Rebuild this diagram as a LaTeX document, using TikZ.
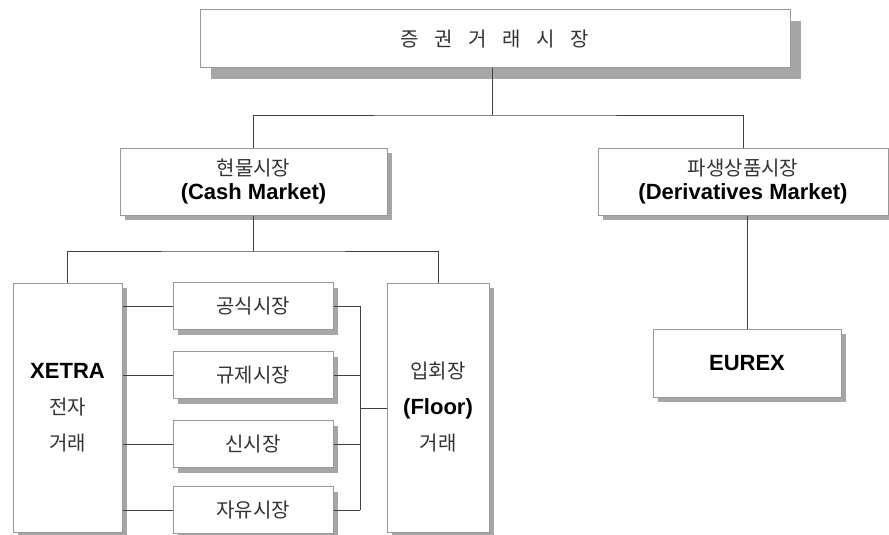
\documentclass[tikz,border=0pt]{standalone}
\usepackage{fontspec}
\setmainfont{Liberation Sans}
\newfontfamily\kr{Noto Sans CJK KR}
\newfontfamily\krwide[WordSpace=3.5]{Noto Sans CJK KR}
\usetikzlibrary{shadows}
\usetikzlibrary{calc}
\tikzstyle{plainbox}=[draw=black!40,fill=white,line width=1pt,inner sep=0pt,align=center,font=\fontsize{20}{24}\selectfont]
\tikzstyle{box}=[plainbox,drop shadow={shadow xshift=5pt,shadow yshift=-5pt,fill=black!35,opacity=1}]
\tikzstyle{topbox}=[plainbox,drop shadow={shadow xshift=11pt,shadow yshift=-11pt,fill=black!35,opacity=1}]
\tikzstyle{tallbox}=[box,minimum height=249pt,font=\fontsize{20}{36}\selectfont]
\tikzstyle{smallbox}=[box,minimum width=160pt,minimum height=47pt]
\tikzstyle{link} = [draw,line width=1pt,black!75]

\begin{document}
\begin{tikzpicture}[x=1pt,y=-1pt]
    \useasboundingbox (0,0) rectangle (889,535);

    % top level
    \node[topbox,minimum width=590pt,minimum height=58pt] (market) at (495,39) {\krwide\color{black!80}증 권 거 래 시 장};

    % cash and derivatives
    \node[box,minimum width=267pt,minimum height=67pt] (cash) at (253.5,181.5)
        {{\kr\color{black!80}현물시장}\\{\fontsize{22}{24}\selectfont\bfseries (Cash Market)}};
    \node[box,minimum width=290pt,minimum height=67pt] (deriv) at (743,181.5)
        {{\kr\color{black!80}파생상품시장}\\{\fontsize{22}{24}\selectfont\bfseries (Derivatives Market)}};

    % trading
    \node[tallbox,minimum width=109pt] (xetra) at (67.5,407.5)
        {{\fontsize{22}{36}\selectfont\bfseries XETRA}\\{\kr\color{black!80}전자}\\{\kr\color{black!80}거래}};
    \node[tallbox,minimum width=102pt] (floor) at (438,407.5)
        {{\kr\color{black!80}입회장}\\{\fontsize{22}{36}\selectfont\bfseries (Floor)}\\{\kr\color{black!80}거래}};

    \foreach \pos/ \name/ \txt in {{(253,306)/official/공식시장},{(253,375)/regulated/규제시장},
                                   {(253,444)/newmkt/신시장},{(253,510)/freemkt/자유시장}}
        \node[smallbox] (\name) at \pos {\kr\color{black!80}\txt};

    \node[box,minimum width=188pt,minimum height=68pt] (eurex) at (747,363)
        {\fontsize{22}{24}\selectfont\bfseries EUREX};

    % connectors
    \coordinate (bus1) at (492,115);
    \coordinate (bus2) at (254,251);
    \coordinate (bus3) at (360,408);
    \path[link] (market.south -| bus1) -- (bus1);
    \path[link] (cash.north) |- (bus1) -| (deriv.north);
    \path[link] (cash.south) -- (cash.south |- bus2);
    \path[link] (xetra.north) |- (bus2) -| (floor.north);
    \path[link] (deriv.south -| eurex.north) -- (eurex.north);

    \foreach \name in {official,regulated,newmkt,freemkt}{
        \path[link] (xetra.east |- \name.west) -- (\name.west);
        \path[link] (\name.east) -- (\name.east -| bus3);
    }
    \path[link] (official.east -| bus3) -- (freemkt.east -| bus3);
    \path[link] (bus3) -- (floor.west |- bus3);

\end{tikzpicture}
\end{document}
